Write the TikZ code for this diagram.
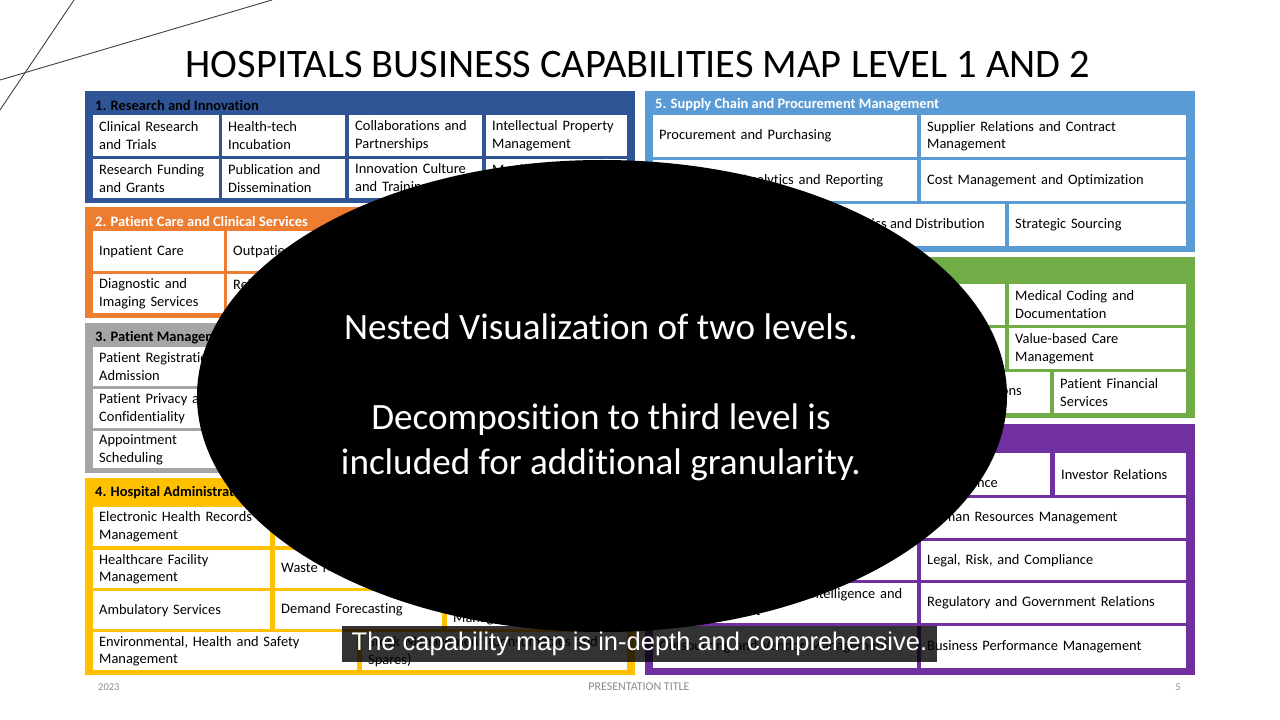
\documentclass[tikz,border=0pt]{standalone}
\usepackage{fontspec}
\setmainfont{Carlito}[Ligatures=NoCommon]
\newfontfamily\capfont{Liberation Sans}
\usetikzlibrary{shapes.geometric}
\definecolor{pblue}{RGB}{47,85,151}
\definecolor{porange}{RGB}{237,125,49}
\definecolor{pgray}{RGB}{165,165,165}
\definecolor{pyellow}{RGB}{255,192,0}
\definecolor{plblue}{RGB}{91,155,213}
\definecolor{pgreen}{RGB}{112,173,71}
\definecolor{ppurple}{RGB}{112,48,160}
\definecolor{footgray}{RGB}{140,140,140}
\definecolor{decogray}{RGB}{64,64,64}
\tikzset{
  panelbox/.style={fill=#1, draw=none},
  cellbox/.style={fill=white, draw=none, anchor=north west, inner xsep=6bp, inner ysep=0pt,
    align=left, text=black, font=\fontsize{14.5}{17.7}\selectfont},
  hdr/.style={anchor=west, inner sep=0pt, font=\fontsize{14.5}{17.7}\selectfont\bfseries},
  celltxt/.style={anchor=east, inner sep=0pt, text=black, font=\fontsize{14.5}{17.7}\selectfont},
  overlay/.style={ellipse, fill=black, draw=none, inner sep=0pt},
  overlaytext/.style={text=white, align=center, inner sep=0pt,
    font=\fontsize{37.3}{45}\selectfont},
  captionbox/.style={fill=black, fill opacity=0.8, text opacity=1, text=white, inner sep=0pt,
    font=\capfont\fontsize{25.6}{30}\selectfont},
  foot/.style={inner sep=0pt, text=footgray, font=\fontsize{10.5}{12}\selectfont},
  decoline/.style={draw=decogray, line width=0.9bp},
  titletext/.style={inner sep=0pt, text=black, font=\fontsize{40.6}{48}\selectfont}
}
\newcommand\cbox[6]{%
  \edef\cellw{\the\dimexpr#4bp-#2bp-12bp\relax}%
  \edef\cellh{\the\dimexpr#5bp-#3bp\relax}%
  \node[cellbox, minimum height=\cellh, text width=\cellw] (#1) at (#2,#3) {#6};}
\newcommand\pbox[6]{\path[panelbox=#6] (#2,#3) rectangle (#4,#5) coordinate (#1);}
\begin{document}
\begin{tikzpicture}[x=1bp,y=-1bp]
\useasboundingbox[fill=white] (0,0) rectangle (1280,720);
% decorative lines
\draw[decoline] (74,0) -- (0,110);
\draw[decoline] (272,0) -- (0,80);
% title
\node[titletext] (title) at (638,65) {HOSPITALS BUSINESS CAPABILITIES MAP LEVEL 1 AND 2};

% ---------- Panel 1 ----------
\pbox{P1}{85}{91}{635}{203}{pblue}
\node[hdr, text=black] (h1) at (95,105) {1. Research and Innovation};
\cbox{p1a}{93}{115}{219}{156}{Clinical Research\\and Trials}
\cbox{p1b}{222}{115}{345}{156}{Health-tech\\Incubation}
\cbox{p1c}{349}{115}{482}{156}{Collaborations and\\Partnerships}
\cbox{p1d}{486}{115}{627}{156}{Intellectual Property\\Management}
\cbox{p1e}{93}{159}{219}{198}{Research Funding\\and Grants}
\cbox{p1f}{222}{159}{345}{198}{Publication and\\Dissemination}
\cbox{p1g}{349}{159}{482}{198}{Innovation Culture\\and Training}
\cbox{p1h}{486}{159}{627}{198}{Monitoring\\\phantom{X}}

% ---------- Panel 2 ----------
\pbox{P2}{85}{207}{635}{318}{porange}
\node[hdr, text=white] (h2) at (95,221) {2. Patient Care and Clinical Services};
\cbox{p2a}{93}{231}{224}{271}{Inpatient Care}
\cbox{p2b}{227}{231}{400}{271}{Outpatient Care}
\cbox{p2c}{93}{274}{224}{313}{Diagnostic and\\Imaging Services}
\cbox{p2d}{227}{274}{400}{313}{Rehabilitation\\\phantom{X}}

% ---------- Panel 3 ----------
\pbox{P3}{85}{323}{635}{473}{pgray}
\node[hdr, text=black] (h3) at (95,338) {3. Patient Management};
\cbox{p3a}{93}{347}{300}{386}{Patient Registration and\\Admission}
\cbox{p3b}{93}{389}{300}{428}{Patient Privacy and\\Confidentiality}
\cbox{p3c}{93}{431}{300}{468}{Appointment\\Scheduling}

% ---------- Panel 4 ----------
\pbox{P4}{85}{478}{635}{675}{pyellow}
\node[hdr, text=black] (h4) at (95,493) {4. Hospital Administration};
\cbox{p4a}{93}{507}{270}{546}{Electronic Health Records\\Management}
\cbox{p4b}{275}{507}{442}{546}{}
\cbox{p4c}{93}{550}{270}{588}{Healthcare Facility\\Management}
\cbox{p4d}{275}{550}{442}{588}{Waste Management}
\cbox{p4e}{93}{591}{270}{629}{Ambulatory Services}
\cbox{p4f}{275}{591}{442}{629}{Demand Forecasting}
\cbox{p4g}{447}{591}{627}{629}{\phantom{X}\\Management}
\cbox{p4h}{93}{632}{357}{670}{Environmental, Health and Safety\\Management}
\cbox{p4i}{362}{632}{627}{670}{Stock Management (Consumables and\\Spares)}

% ---------- Panel 5 ----------
\pbox{P5}{645}{91}{1195}{252}{plblue}
\node[hdr, text=white] (h5) at (655,105) {5. Supply Chain and Procurement Management};
\cbox{p5a}{653}{115}{917}{157}{Procurement and Purchasing}
\cbox{p5b}{921}{115}{1186}{157}{Supplier Relations and Contract\\Management}
\cbox{p5c}{653}{160}{917}{201}{Supply Chain Analytics and Reporting}
\cbox{p5d}{921}{160}{1186}{201}{Cost Management and Optimization}
\cbox{p5e}{653}{204}{1005}{246}{}
\node[celltxt] (t5e) at (985,225) {Inventory Management, Logistics and Distribution};
\cbox{p5f}{1009}{204}{1186}{246}{Strategic Sourcing}

% ---------- Panel 6 ----------
\pbox{P6}{645}{257}{1195}{418}{pgreen}
\cbox{p6a}{653}{284}{1005}{325}{}
\cbox{p6b}{1009}{284}{1186}{325}{Medical Coding and\\Documentation}
\cbox{p6c}{653}{328}{1005}{369}{}
\cbox{p6d}{1009}{328}{1186}{369}{Value-based Care\\Management}
\cbox{p6e}{653}{372}{1050}{413}{}
\node[celltxt] (t6e) at (1022,392) {Billing and Collections};
\cbox{p6f}{1054}{372}{1186}{413}{Patient Financial\\Services}

% ---------- Panel 7 ----------
\pbox{P7}{645}{424}{1195}{675}{ppurple}
\cbox{p7b}{921}{453}{1050}{495}{\phantom{X}\\Governance}
\cbox{p7c}{1055}{453}{1186}{495}{Investor Relations}
\cbox{p7e}{921}{498}{1186}{538}{Human Resources Management}
\cbox{p7f}{653}{541}{917}{580}{}
\cbox{p7g}{921}{541}{1186}{580}{Legal, Risk, and Compliance}
\cbox{p7h}{653}{583}{917}{623}{Data Analytics, Business Intelligence and\\Decision Support}
\cbox{p7i}{921}{583}{1186}{623}{Regulatory and Government Relations}
\cbox{p7j}{653}{626}{917}{668}{Outsourcing and Vendor Management}
\cbox{p7k}{921}{626}{1186}{668}{Business Performance Management}

% ---------- overlay ellipse ----------
\node[overlay, minimum width=810bp, minimum height=472bp] (ov) at (602,396) {};
\node[overlaytext] (ovtext) at (601,397.5)
  {Nested Visualization of two levels.\\ \strut\\Decomposition to third level is\\included for additional granularity.};

% ---------- caption ----------
\node[captionbox, minimum width=595bp, minimum height=36bp] (cap) at (639.5,644)
  {\raisebox{-2bp}{The capability map is in-depth and comprehensive.}};

% ---------- footer ----------
\node[foot, anchor=west] (f1) at (98,687) {2023};
\node[foot, font=\fontsize{12}{14}\selectfont] (f2) at (639,687) {PRESENTATION TITLE};
\node[foot] (f3) at (1178,687) {5};
\end{tikzpicture}
\end{document}
